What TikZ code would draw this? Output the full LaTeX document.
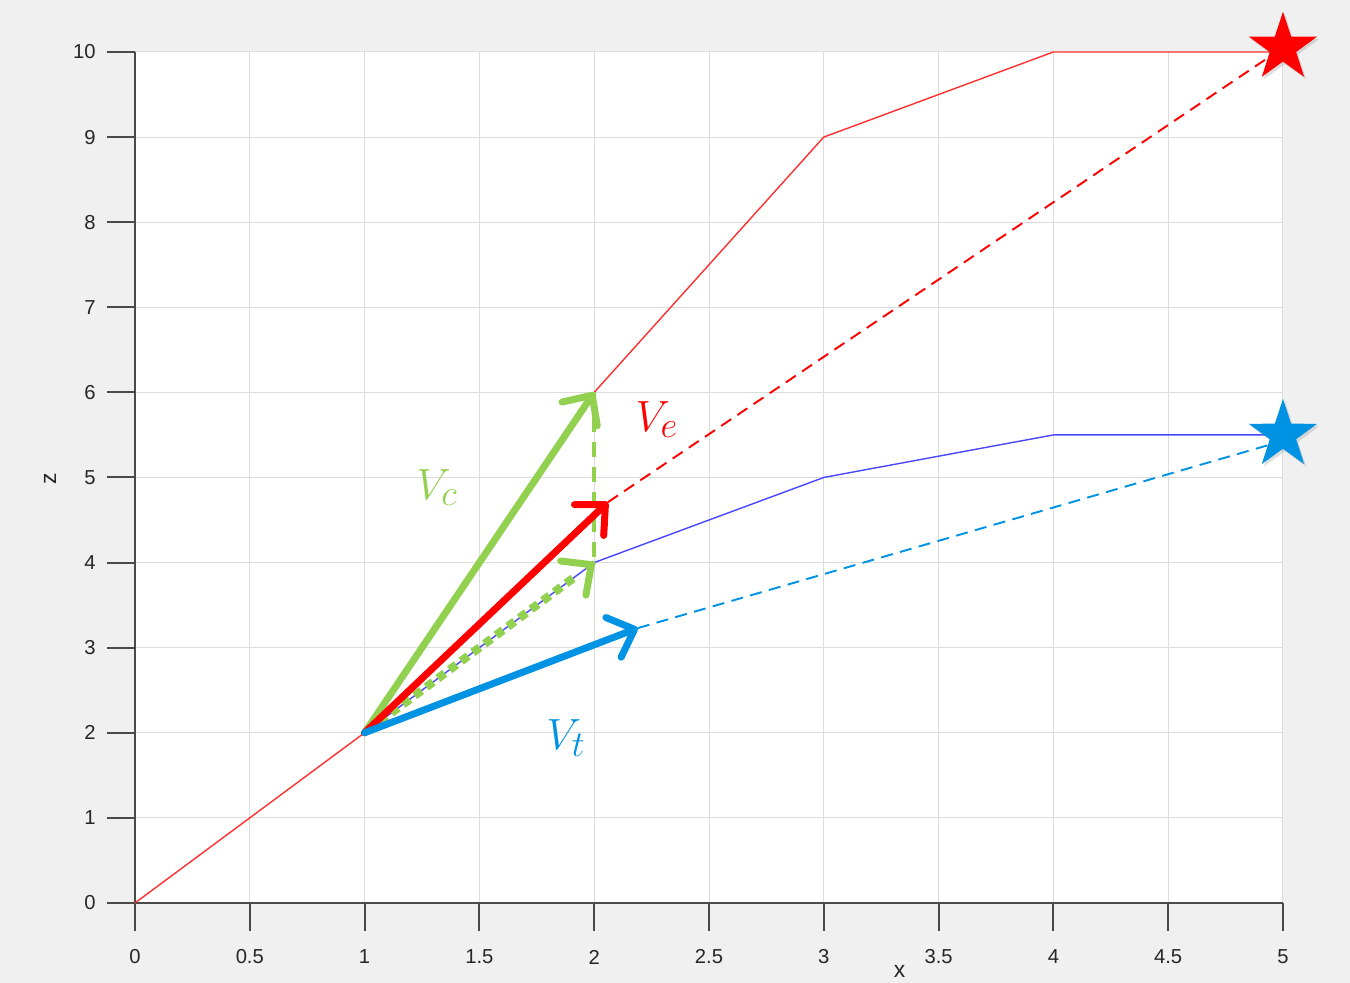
\documentclass[tikz,border=0pt]{standalone}
\usepackage{fontspec}
\setsansfont{Liberation Sans}
\usetikzlibrary{arrows.meta, positioning, shapes.geometric, shadows, decorations.markings}

\definecolor{vgreen}{HTML}{92D050}
\definecolor{vblue}{HTML}{0092E3}
\definecolor{vred}{HTML}{FF0000}
\definecolor{pathblue}{HTML}{4848FF}
\definecolor{pathred}{HTML}{FF3030}
\definecolor{panel}{HTML}{F0F0F0}
\definecolor{gridgray}{HTML}{DCDCDC}
\definecolor{axisgray}{HTML}{4A4A4A}

\begin{document}
\begin{tikzpicture}[
    x=4.592cm, y=1.702cm,
    gridline/.style={gridgray, line width=0.55pt},
    axis/.style={axisgray, line width=1.1pt},
    ticklabel/.style={font=\sffamily\fontsize{11.5}{12}\selectfont, text=black!85, inner sep=0pt},
    curve/.style={line width=0.8pt},
    vec/.style={line width=1.4mm, line cap=round, -{Straight Barb[length=4.5mm, width=8.5mm, round]}},
    dotvec/.style={decoration={markings,
        mark=between positions 0.03 and 0.93 step 2.9mm with {\fill[vgreen] (-0.85mm,-0.85mm) rectangle (0.85mm,0.85mm);},
        mark=at position 1 with {\draw[vec, vgreen] (-0.5mm,0) -- (0,0);}}, decorate},
    guide/.style={line width=1.1pt, dash pattern=on 2.4mm off 1.5mm},
    target/.style={star, star points=5, star point ratio=2.6, minimum size=14.4mm, inner sep=0pt,
        drop shadow={opacity=0.25, shadow xshift=0.4mm, shadow yshift=-0.5mm}},
    vlabel/.style={font=\fontsize{28}{30}\selectfont}
]
% background and plot area
\fill[panel] (-0.588,-0.940) rectangle (5.292,10.611);
\useasboundingbox (-0.588,-0.940) rectangle (5.292,10.611);
\fill[white] (0,0) rectangle (5,10);

% grid
\foreach \x in {0.5,1,1.5,2,2.5,3,3.5,4,4.5,5}
    \draw[gridline] (\x,0) -- (\x,10);
\foreach \y in {1,...,10}
    \draw[gridline] (0,\y) -- (5,\y);

% axes, ticks and tick labels
\draw[axis] (0,10) -- (0,0) -- (5,0);
\foreach \x [count=\i] in {0,0.5,1,1.5,2,2.5,3,3.5,4,4.5,5} {
    \draw[axis] (\x,0) -- (\x,-0.33);
    \node[ticklabel] (xt\i) at (\x,-0.635) {\x};
}
\foreach \y in {0,...,10} {
    \draw[axis] (0,\y) -- (-0.122,\y);
    \node[ticklabel, anchor=east] (zt\y) at (-0.17,\y) {\y};
}
\node[ticklabel, font=\sffamily\fontsize{13}{14}\selectfont, rotate=90] (zlabel) at (-0.37,4.99) {z};
\node[ticklabel, font=\sffamily\fontsize{13}{14}\selectfont] (xlabel) at (3.33,-0.80) {x};

% points
\coordinate (o) at (0,0);
\coordinate (p1) at (1,2);
\coordinate (r2) at (2,6);
\coordinate (r3) at (3,9);
\coordinate (r4) at (4,10);
\coordinate (r5) at (5,10);
\coordinate (b2) at (2,4);
\coordinate (b3) at (3,5);
\coordinate (b4) at (4,5.5);
\coordinate (b5) at (5,5.5);
\coordinate (ve) at (2.06,4.71);
\coordinate (vt) at (2.19,3.23);
\coordinate (redgoal) at (5,10.05);
\coordinate (bluegoal) at (5,5.43);

% paths
\draw[curve, pathred] (o) -- (p1) -- (r2) -- (r3) -- (r4) -- (r5);
\draw[curve, pathblue] (p1) -- (b2) -- (b3) -- (b4) -- (b5);

% extrapolations
\draw[guide, vred] (ve) -- (redgoal);
\draw[guide, vblue] (vt) -- (bluegoal);
\draw[vgreen, line width=0.9mm, dash pattern=on 3mm off 2mm] (r2) -- (b2);

% vectors
\path[dotvec] (p1) -- (b2);
\draw[vec, vgreen] (p1) -- (r2);
\draw[vec, vred] (p1) -- (ve);
\draw[vec, vblue] (p1) -- (vt);

% targets
\node[target, fill=vred] (redstar) at (redgoal) {};
\node[target, fill=vblue] (bluestar) at (b5) {};

% labels
\node[vlabel, text=vgreen] (vclabel) at (1.315,4.88) {$V_c$};
\node[vlabel, text=vred] (velabel) at (2.273,5.68) {$V_e$};
\node[vlabel, text=vblue] (vtlabel) at (1.877,1.94) {$V_t$};
\end{tikzpicture}
\end{document}
